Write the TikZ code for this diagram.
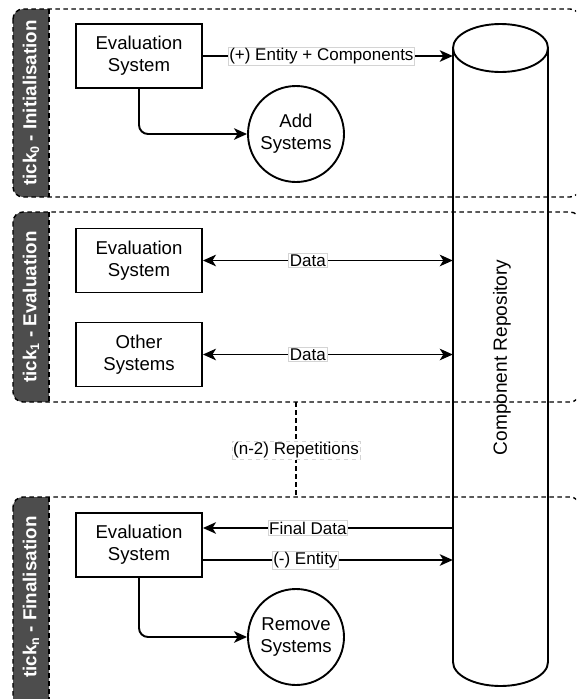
\documentclass[tikz,border=0pt]{standalone}
\usepackage{fontspec}
\setmainfont{Liberation Sans}
\usetikzlibrary{arrows.meta}
\definecolor{stripgray}{HTML}{4D4D4D}
\definecolor{tagborder}{HTML}{D4D4D4}
\newcommand{\lanetitle}[2]{\fontsize{18.8}{22}\selectfont\bfseries tick\raisebox{-0.28ex}{\fontsize{12.5}{12.5}\selectfont #1} - #2}
\tikzset{
  every node/.style={font=\fontsize{18.6}{22}\selectfont},
  conn/.style={line width=1.9pt},
  tip/.tip={Stealth[length=13pt,width=11.5pt,inset=3.5pt]},
  arr/.style={conn,-tip},
  biarr/.style={conn,tip-tip},
  sysbox/.style={draw,line width=1.9pt,minimum width=126pt,minimum height=64pt,align=center,inner sep=0pt},
  sysround/.style={draw,circle,line width=1.9pt,minimum size=96pt,align=center,inner sep=0pt},
  tag/.style={fill=white,draw=tagborder,line width=0.7pt,inner sep=1.2pt,font=\fontsize{17}{20}\selectfont},
  laneline/.style={dash pattern=on 4.5pt off 3.5pt,line width=1.4pt},
  lanetext/.style={text=white,rotate=90}
}
\begin{document}
\begin{tikzpicture}[x=1pt,y=-1pt]
\useasboundingbox (0,0) rectangle (576,699);
\clip (0,0) rectangle (576,699);
\fill[white] (0,0) rectangle (576,699);

% swimlanes: dark title strip and dashed frame
\foreach \t/\b in {9/197, 212/402, 497/712} {
  \begin{scope}
    \clip (0,\t-3) rectangle (49,\b+3);
    \fill[stripgray,rounded corners=10pt] (13,\t) rectangle (120,\b);
  \end{scope}
  \draw[laneline,rounded corners=10pt] (13,\t) rectangle (580,\b);
  \draw[laneline] (49,\t) -- (49,\b);
}
\node[lanetext] (t0) at (31,103) {\lanetitle{0}{Initialisation}};
\node[lanetext] (t1) at (31,307) {\lanetitle{1}{Evaluation}};
\node[lanetext] (tn) at (31,597) {\lanetitle{n}{Finalisation}};

% component repository cylinder
\node[inner sep=0pt,minimum width=95pt,minimum height=662pt] (repo) at (500.5,355) {};
\draw[line width=1.9pt] (453,48) -- (453,662)
  arc[start angle=180,end angle=0,x radius=47.5,y radius=24] -- (548,48);
\draw[line width=1.9pt] (500.5,48) ellipse [x radius=47.5,y radius=24];
\node[rotate=90,font=\fontsize{19.1}{22}\selectfont] (repolabel) at (502,357.5) {Component Repository};

% tick 0
\node[sysbox] (e0) at (139,56) {Evaluation\\System};
\node[sysround] (add) at (296,134) {Add\\Systems};
\draw[arr] (e0.east) -- node[tag,pos=0.474] {(+) Entity + Components} (e0.east -| repo.west);
\draw[arr,rounded corners=9pt] (e0.south) |- (add.west);

% tick 1
\node[sysbox] (e1) at (139,260.5) {Evaluation\\System};
\node[sysbox] (o1) at (139,354.5) {Other\\Systems};
\draw[biarr] (e1.east) -- node[tag,pos=0.42] {Data} (e1.east -| repo.west);
\draw[biarr] (o1.east) -- node[tag,pos=0.42] {Data} (o1.east -| repo.west);

% repetitions
\coordinate (repA) at (296,402);
\coordinate (repB) at (296,497);
\draw[laneline] (repA) -- node[tag,pos=0.51] {(n-2) Repetitions} (repB);

% tick n
\node[sysbox] (en) at (139,545) {Evaluation\\System};
\node[sysround] (rem) at (296,637) {Remove\\Systems};
\coordinate (fdA) at (repo.west |- 0,528);
\draw[arr] (fdA) -- node[tag,pos=0.58] {Final Data} (fdA -| en.east);
\coordinate (enB) at (en.east |- 0,560);
\draw[arr] (enB) -- node[tag,pos=0.41] {(-) Entity} (enB -| repo.west);
\draw[arr,rounded corners=9pt] (en.south) |- (rem.west);
\end{tikzpicture}
\end{document}
